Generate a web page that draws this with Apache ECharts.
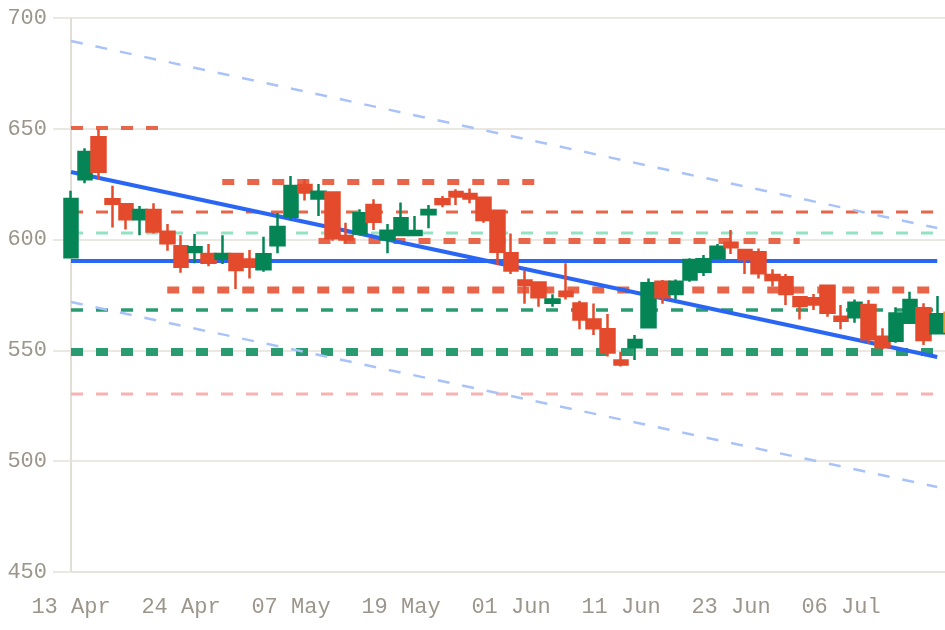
<!DOCTYPE html>
<html>
<head>
<meta charset="utf-8">
<script src="https://cdn.jsdelivr.net/npm/echarts@6/dist/echarts.min.js"></script>
<style>
  html, body { margin: 0; padding: 0; background: #fff; }
  #chart { width: 945px; height: 630px; }
</style>
</head>
<body>
<div id="chart"></div>
<script>
// trading days (category axis)
var dates = [
  '13 Apr', '14 Apr', '15 Apr', '16 Apr', '17 Apr', '20 Apr', '21 Apr', '22 Apr',
  '24 Apr', '27 Apr', '28 Apr', '29 Apr', '30 Apr', '01 May', '04 May', '05 May',
  '07 May', '08 May', '11 May', '12 May', '13 May', '14 May', '15 May', '18 May',
  '19 May', '20 May', '21 May', '22 May', '26 May', '27 May', '28 May', '29 May',
  '01 Jun', '02 Jun', '03 Jun', '04 Jun', '05 Jun', '08 Jun', '09 Jun', '10 Jun',
  '11 Jun', '12 Jun', '15 Jun', '16 Jun', '17 Jun', '18 Jun', '19 Jun', '22 Jun',
  '23 Jun', '24 Jun', '25 Jun', '26 Jun', '29 Jun', '30 Jun', '01 Jul', '02 Jul',
  '06 Jul', '07 Jul', '08 Jul', '09 Jul', '10 Jul', '13 Jul', '14 Jul', '15 Jul',
  '16 Jul'
];

// [open, close, low, high]
var ohlc = [
  [592, 618.3, 591.5, 622], [627.2, 639.5, 625.4, 641.2], [646.2, 630.6, 626.9, 649.8],
  [618.2, 616.2, 605.5, 624.3], [616, 609.2, 604.6, 616.5], [609.2, 613.4, 602, 615.2],
  [613.4, 603.6, 602.8, 616.4], [603.5, 598.3, 595, 607], [597, 587.8, 585, 602],
  [594.4, 596.5, 589.3, 602.5], [593.5, 589.6, 588, 598], [591.4, 593.5, 589, 602],
  [593.5, 586.3, 577.7, 593.8], [591, 587.8, 582.5, 595.3], [586.6, 593.4, 585.5, 601.3],
  [597.5, 605.7, 593.8, 612], [610.3, 624.2, 608.8, 628.7], [624.6, 621.2, 617.6, 627.2],
  [618.6, 621.6, 610.6, 625.1], [621.2, 600.6, 599.5, 621.5], [601.6, 600.1, 598.3, 607.6],
  [602.8, 611.9, 602, 613.7], [615.6, 608.1, 604.3, 618.2], [600, 604, 593.8, 607],
  [602.1, 609.6, 602, 616.7], [602.1, 603.9, 602, 610.6], [611.4, 613.4, 605.1, 615.6],
  [618.2, 616.1, 614.6, 619.7], [621.5, 619.4, 615.6, 622.7], [620.6, 618.6, 616.4, 623.1],
  [618.9, 608.8, 607.6, 619], [613, 594.5, 588.5, 613.5], [593.8, 586, 584.5, 602.8],
  [581.5, 579.5, 571, 586], [580.6, 574, 569.7, 581], [571.5, 573, 569.7, 575.3],
  [576.5, 574.6, 573, 589.3], [571.2, 564, 559.5, 572.4], [564, 560, 557, 571.2],
  [559.5, 549, 547.2, 566.4], [545.4, 543.6, 542.7, 549.4], [551.4, 554.7, 545.7, 557],
  [560.4, 580.3, 560, 582.5], [581, 574, 571, 581.8], [575.5, 581, 573, 582],
  [582, 590.8, 581, 591.6], [585.5, 591.1, 583.6, 593], [591.6, 596.8, 591, 598],
  [598.6, 596.5, 593.5, 604.3], [595.3, 591.1, 584.5, 595.6], [594.3, 584.8, 582.5, 596],
  [584, 581.8, 578.8, 586.6], [583, 575.5, 570.5, 584.5], [574, 570, 564, 574.5],
  [573.5, 570.7, 568.2, 575.5], [579.2, 567, 565.2, 579.5], [565.2, 563.4, 559.5, 570.5],
  [565, 571.5, 562.5, 573], [570.5, 555, 552.9, 572.7], [556.2, 551.4, 550.5, 560],
  [554.4, 566.7, 553.5, 569.5], [562.5, 572.7, 562.5, 576.5], [569, 554.7, 552.4, 571.3],
  [557.7, 566.3, 557.7, 574.5], [558.5, 567, 558.5, 567]
];

// support / resistance levels
var levelValue = [650.4, 626, 612.5, 603, 599.4, 590.3, 577.3, 568.2, 549.3, 530.3];
var levelFrom  = [0, 11, 0, 0, 18, 0, 7, 0, 0, 0];
var levelTo    = [7, 34, 63, 63, 53, 63, 63, 63, 63, 63];

// trend lines: upper channel, trend, lower channel
var trendStart = [689.6, 630.5, 571.8];
var trendEnd   = [605.2, 547, 488.4];
var trendTo = 63;

var yTicks = [450, 500, 550, 600, 650, 700];

var levelStyle = [
  {color: '#e8654a', width: 4, type: [12, 13]},
  {color: '#e8654a', width: 6, type: [12, 13]},
  {color: '#e8654a', width: 3, type: [12, 13]},
  {color: '#93e3c3', width: 3, type: [12, 13]},
  {color: '#e8654a', width: 6, type: [12, 13]},
  {color: '#2a66f4', width: 4, type: 'solid'},
  {color: '#e8654a', width: 7, type: [12, 13]},
  {color: '#2a9a70', width: 3.5, type: [12, 13]},
  {color: '#2a9a70', width: 8, type: [12, 13]},
  {color: '#f9b2b2', width: 3, type: [12, 13]}
];
var trendStyle = [
  {color: '#a9c3fa', width: 2.5, type: [12, 13]},
  {color: '#2a66f4', width: 4, type: 'solid'},
  {color: '#a9c3fa', width: 2.5, type: [12, 13]}
];

var series = [];
levelValue.forEach(function (v, k) {
  series.push({
    type: 'line',
    data: [[dates[levelFrom[k]], v], [dates[levelTo[k]], v]],
    symbol: 'none',
    silent: true,
    z: 2,
    lineStyle: levelStyle[k]
  });
});
trendStart.forEach(function (v, k) {
  series.push({
    type: 'line',
    data: [[dates[0], v], [dates[trendTo], trendEnd[k]]],
    symbol: 'none',
    silent: true,
    z: 3,
    lineStyle: trendStyle[k]
  });
});

var candles = ohlc.map(function (d, i) {
  if (i === ohlc.length - 1) {
    return {value: d, itemStyle: {color: '#f2a024', color0: '#f2a024', borderColor: '#f2a024', borderColor0: '#f2a024'}};
  }
  return d;
});
series.push({
  type: 'candlestick',
  data: candles,
  barWidth: 14,
  z: 5,
  itemStyle: {
    color: '#058556',
    color0: '#e34b2c',
    borderColor: '#058556',
    borderColor0: '#e34b2c',
    borderWidth: 2.5
  }
});

var axisFont = {fontFamily: 'Liberation Mono', fontSize: 22, color: '#9b958b'};

var myChart = echarts.init(document.getElementById('chart'));
myChart.setOption({
  animation: false,
  backgroundColor: '#ffffff',
  grid: {left: 71, right: -6, top: 18, bottom: 58, outerBoundsMode: 'none', containLabel: false},
  xAxis: {
    type: 'category',
    data: dates,
    boundaryGap: false,
    axisLine: {lineStyle: {color: '#e6e3dc', width: 2}},
    axisTick: {show: false},
    axisLabel: Object.assign({
      interval: function (i) { return i % 8 === 0 && i < 64; },
      margin: 24
    }, axisFont),
    splitLine: {show: false}
  },
  yAxis: {
    type: 'value',
    min: yTicks[0],
    max: yTicks[yTicks.length - 1],
    interval: 50,
    axisLine: {show: true, lineStyle: {color: '#e2ded5', width: 2}},
    axisTick: {show: true, length: 18, lineStyle: {color: '#ebe8e2', width: 2}},
    axisLabel: Object.assign({margin: 24}, axisFont),
    splitLine: {lineStyle: {color: '#ebe8e2', width: 2}}
  },
  series: series
});
</script>
</body>
</html>
